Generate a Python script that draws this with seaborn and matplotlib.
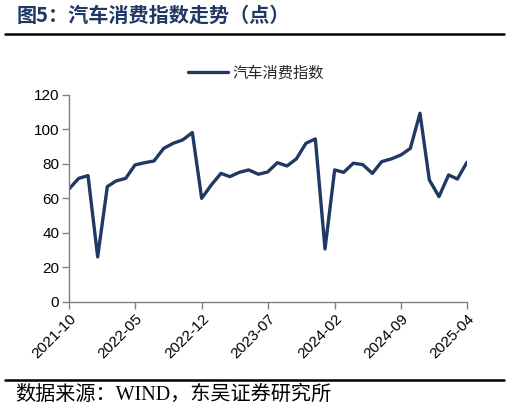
import numpy as np
import pandas as pd
import matplotlib
matplotlib.use("Agg")
import matplotlib.pyplot as plt
import seaborn as sns

months = pd.date_range("2021-10-01", "2025-04-01", freq="MS")
index_values = [65.4, 71.6, 73.2, 26.0, 66.8, 70.1, 71.6, 79.4, 80.7, 81.7,
                89.0, 92.0, 93.9, 98.2, 60.0, 67.8, 74.5, 72.6, 75.1, 76.5,
                74.0, 75.3, 80.7, 78.8, 82.9, 92.0, 94.5, 30.6, 76.5, 75.1,
                80.4, 79.6, 74.5, 81.3, 82.9, 85.2, 89.0, 109.4, 70.7, 61.0,
                73.6, 71.2, 81.0]
series_name = "汽车消费指数"
tick_labels = ["2021-10", "2022-05", "2022-12", "2023-07", "2024-02", "2024-09", "2025-04"]

df = pd.DataFrame({"month": months, series_name: index_values})

sns.set_style("white")
plt.rcParams["font.family"] = ["Liberation Sans", "Noto Sans CJK SC", "DejaVu Sans"]

fig = plt.figure(figsize=(5.09, 4.13), dpi=100)
ax = fig.add_axes([0.1356, 0.2695, 0.7819, 0.5005])

sns.lineplot(data=df, x="month", y=series_name, ax=ax, color="#203864",
             linewidth=2.4, label=series_name)
ax.lines[0].set_solid_joinstyle("round")
ax.lines[0].set_solid_capstyle("round")

ax.set_ylim(0, 120)
ax.set_yticks(range(0, 121, 20))
ax.set_xlim(months[0], months[-1])
ax.set_xticks(pd.to_datetime(tick_labels))
ax.set_xticklabels(tick_labels, rotation=45, ha="right", rotation_mode="anchor")
ax.set_xlabel("")
ax.set_ylabel("")
ax.tick_params(axis="both", labelsize=11, colors="black", length=5, width=1,
               direction="out", left=True, bottom=True, pad=2)
for side in ["top", "right"]:
    ax.spines[side].set_visible(False)
for side in ["left", "bottom"]:
    ax.spines[side].set_color("#808080")
    ax.spines[side].set_linewidth(1)
ax.tick_params(axis="both", color="#808080")

leg = ax.legend(loc="lower center", bbox_to_anchor=(0.47, 1.005), frameon=False,
                fontsize=11, handlelength=2.6, handletextpad=0.3)

fig.text(0.033, 0.962, "图5：汽车消费指数走势（点）", fontsize=14.5, fontweight="bold",
         color="#1F3864", va="center", family=["Noto Sans CJK SC", "DejaVu Sans"])
fig.add_artist(plt.Line2D([0.01, 0.99], [0.918, 0.918], color="black", linewidth=1.8))
fig.add_artist(plt.Line2D([0.01, 0.99], [0.080, 0.080], color="black", linewidth=1.8))
fig.text(0.03, 0.042, "数据来源：WIND，东吴证券研究所", fontsize=14.5, color="black",
         va="center", family=["Liberation Serif", "Noto Sans CJK SC"])

fig.savefig("out.png", dpi=100)
